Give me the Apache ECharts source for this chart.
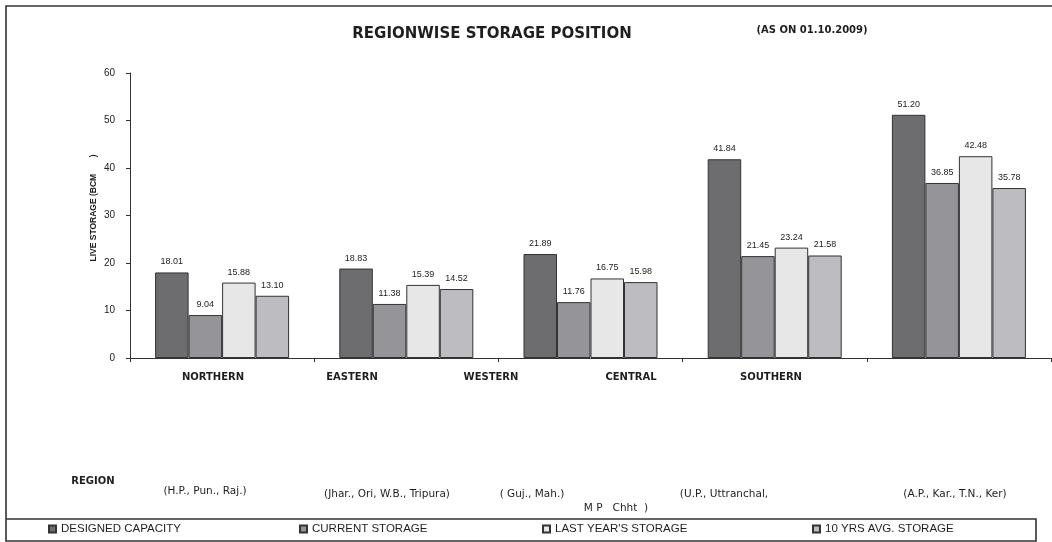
<!DOCTYPE html>
<html><head><meta charset="utf-8">
<script src="https://cdn.jsdelivr.net/npm/echarts@6/dist/echarts.min.js"></script>
<style>html,body{margin:0;padding:0;background:#fff}#c{width:1052px;height:542px}</style>
</head><body><div id="c"></div>
<script>
const regions = ['NORTHERN', 'EASTERN', 'WESTERN', 'CENTRAL', 'SOUTHERN'];
const stateLabels = ['(H.P., Pun., Raj.)', '(Jhar., Ori, W.B., Tripura)', '( Guj., Mah.)', '(U.P., Uttranchal,', '(A.P., Kar., T.N., Ker)'];
const extraStateLabel = 'M P   Chht  )';
const seriesNames = ['DESIGNED CAPACITY', 'CURRENT STORAGE', "LAST YEAR'S STORAGE", '10 YRS AVG. STORAGE'];
const designedCapacity = [18.01, 18.83, 21.89, 41.84, 51.20];
const currentStorage = [9.04, 11.38, 11.76, 21.45, 36.85];
const lastYearStorage = [15.88, 15.39, 16.75, 23.24, 42.48];
const tenYrsAvgStorage = [13.10, 14.52, 15.98, 21.58, 35.78];
const yMin = 0, yMax = 60, yStep = 10;
const titleText = 'REGIONWISE STORAGE POSITION';
const subTitleText = '(AS ON 01.10.2009)';
const yAxisTitle = 'LIVE STORAGE (BCM       )';
const xAxisTitle = 'REGION';

// layout (positions only)
const regionLabelX = [213, 352, 491, 631, 771];
const stateLabelX = [205, 387, 532, 724, 955];
const stateLabelY = [491, 494, 494, 494, 494];
const legendLeft = [48, 299, 542, 812];

const GFONT = 'DejaVu Sans';
const colors = ['#6d6d70', '#959599', '#e7e7e7', '#bcbcc1'];
const allValues = [designedCapacity, currentStorage, lastYearStorage, tenYrsAvgStorage];

const chart = echarts.init(document.getElementById('c'), null, {renderer: 'canvas'});

function txt(text, x, y, size, bold, family, extra) {
  return Object.assign({
    type: 'text', x: x, y: y, z: 10,
    style: {text: text, fontFamily: family || GFONT, fontSize: size, fontWeight: bold ? 'bold' : 'normal',
            fill: '#1e1e1e', align: 'center', verticalAlign: 'middle'}
  }, extra || {});
}

const graphics = [
  {type: 'polyline', z: 5, shape: {points: [[1060, 6], [6, 6], [6, 541], [1036, 541], [1036, 519], [6, 519]]},
   style: {stroke: '#333', lineWidth: 1.6, fill: null}},
  txt(titleText, 492, 34, 15, true),
  txt(subTitleText, 812, 30, 10, true),
  txt(yAxisTitle, 94, 208, 8.5, true, 'Liberation Sans', {rotation: Math.PI / 2}),
  txt(xAxisTitle, 93, 481, 10, true)
];
regions.forEach((r, i) => graphics.push(txt(r, regionLabelX[i], 377, 10, true)));
stateLabels.forEach((s, i) => graphics.push(txt(s, stateLabelX[i], stateLabelY[i], 10.5, false)));
graphics.push(txt(extraStateLabel, 616, 508, 10.5, false));

chart.setOption({
  backgroundColor: '#fff',
  animation: false,
  textStyle: {fontFamily: 'Liberation Sans'},
  grid: {left: 130, right: 1, top: 73, bottom: 184, containLabel: false},
  legend: seriesNames.map((n, i) => ({
    data: [n], left: legendLeft[i], top: 523, padding: 0,
    icon: 'rect', itemWidth: 7, itemHeight: 7, itemGap: 6,
    textStyle: {fontFamily: 'Liberation Sans', fontSize: 11.5, color: '#1e1e1e', padding: [1, 0, 0, 0]},
    selectedMode: false
  })),
  xAxis: {
    type: 'category', data: regions, boundaryGap: true,
    axisLine: {lineStyle: {color: '#333', width: 1}},
    axisTick: {show: true, length: 4, lineStyle: {color: '#333'}},
    axisLabel: {show: false}, splitLine: {show: false}
  },
  yAxis: {
    type: 'value', min: yMin, max: yMax, interval: yStep,
    axisLine: {show: true, lineStyle: {color: '#333', width: 1}},
    axisTick: {show: true, length: 4, lineStyle: {color: '#333'}},
    axisLabel: {fontSize: 10, color: '#222', margin: 15, fontFamily: 'Liberation Sans'},
    splitLine: {show: false}
  },
  series: seriesNames.map((n, i) => ({
    name: n, type: 'bar', data: allValues[i], barWidth: 33.5, barGap: '0%',
    itemStyle: {color: colors[i], borderColor: '#333', borderWidth: 1},
    label: {show: true, position: 'top', distance: 6, fontSize: 9, color: '#222', fontFamily: 'Liberation Sans',
            formatter: p => p.value.toFixed(2)}
  })),
  graphic: graphics
});
</script></body></html>
